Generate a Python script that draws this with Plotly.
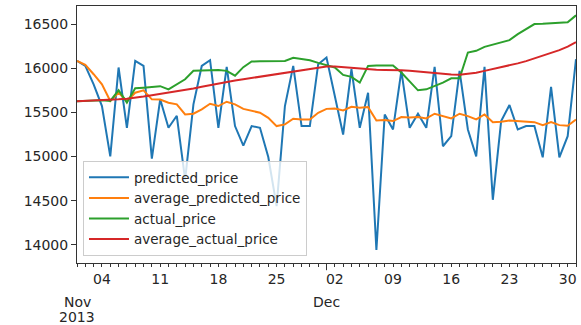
import pandas as pd
import plotly.graph_objects as go

dates = pd.date_range("2013-11-01", "2013-12-31", freq="D")

predicted_price = [16083, 16026, 15818, 15572, 15003, 16008, 15326, 16083, 16026, 14977,
                   15648, 15326, 15462, 14740, 15591, 16026, 16091, 15326, 16015, 15345,
                   15125, 15345, 15326, 14995, 14440, 15572, 16026, 15345, 15345, 16045,
                   16121, 15680, 15250, 15989, 15326, 15723, 13943, 15477, 15307, 15970,
                   15326, 15485, 15326, 16015, 15117, 15231, 15970, 15307, 15003, 16015,
                   14511, 15402, 15583, 15307, 15345, 15345, 14992, 15788, 14992, 15231,
                   16102]
average_predicted_price = [16083, 16038, 15932, 15818, 15629, 15723, 15629, 15723, 15750, 15648,
                           15645, 15610, 15591, 15477, 15485, 15534, 15598, 15572, 15621, 15591,
                           15540, 15515, 15496, 15439, 15345, 15364, 15428, 15420, 15420, 15496,
                           15540, 15545, 15523, 15564, 15553, 15560, 15409, 15413, 15402, 15447,
                           15442, 15447, 15432, 15485, 15458, 15432, 15485, 15458, 15420, 15477,
                           15388, 15394, 15409, 15402, 15394, 15390, 15356, 15390, 15356, 15349,
                           15420]
actual_price = [15625, 15630, 15635, 15638, 15630, 15750, 15610, 15773, 15780, 15788,
                15797, 15761, 15818, 15875, 15972, 15977, 15981, 15980, 15970, 15915,
                16012, 16076, 16078, 16078, 16080, 16083, 16118, 16105, 16090, 16060,
                16030, 16008, 15924, 15902, 15837, 16026, 16030, 16030, 16030, 15951,
                15850, 15750, 15761, 15799, 15837, 15886, 15886, 16178, 16197, 16242,
                16265, 16292, 16318, 16386, 16443, 16500, 16502, 16506, 16511, 16519,
                16598]
average_actual_price = [15625, 15628, 15632, 15636, 15640, 15648, 15655, 15665, 15680, 15695,
                        15710, 15722, 15735, 15750, 15770, 15790, 15810, 15830, 15848, 15862,
                        15875, 15890, 15905, 15920, 15935, 15950, 15965, 15980, 15995, 16008,
                        16020, 16020, 16012, 16000, 15990, 15985, 15982, 15980, 15980, 15978,
                        15970, 15960, 15950, 15940, 15932, 15928, 15925, 15935, 15950, 15970,
                        15990, 16010, 16030, 16055, 16080, 16110, 16140, 16170, 16205, 16245,
                        16295]

week_ticks = pd.date_range("2013-11-04", "2013-12-30", freq="7D")
week_labels = [d.strftime("%d") for d in week_ticks]
y_ticks = [14000, 14500, 15000, 15500, 16000, 16500]

series = [
    ("predicted_price", predicted_price, "#1f77b4"),
    ("average_predicted_price", average_predicted_price, "#ff7f0e"),
    ("actual_price", actual_price, "#2ca02c"),
    ("average_actual_price", average_actual_price, "#d62728"),
]

fig = go.Figure()
for name, vals, col in series:
    fig.add_trace(go.Scatter(x=dates, y=vals, mode="lines", name=name,
                             line=dict(color=col, width=2)))

font = dict(family="DejaVu Sans", size=14, color="#262626")
fig.update_layout(
    width=581, height=325,
    margin=dict(l=77, r=5, t=6, b=62),
    paper_bgcolor="white", plot_bgcolor="white",
    font=font,
    showlegend=True,
    legend=dict(x=0.012, y=0.027, xanchor="left", yanchor="bottom",
                bgcolor="rgba(255,255,255,0.8)", bordercolor="#cccccc", borderwidth=1,
                font=dict(family="DejaVu Sans", size=13.5, color="#262626"),
                itemwidth=40, tracegroupgap=0),
)
fig.update_xaxes(
    range=[dates[0], dates[-1]],
    tickmode="array", tickvals=week_ticks, ticktext=week_labels,
    ticks="outside", ticklen=3, tickcolor="#333333",
    showline=True, linecolor="#333333", linewidth=1, mirror=True,
    showgrid=False, zeroline=False,
    minor=dict(ticks="outside", ticklen=3, tickcolor="#333333",
               dtick=86400000, tick0="2013-11-01", showgrid=False),
    tickfont=font,
)
fig.update_yaxes(
    range=[13796, 16704],
    tickmode="array", tickvals=y_ticks, ticktext=[str(v) for v in y_ticks],
    ticks="outside", ticklen=5, tickcolor="#333333",
    showline=True, linecolor="#333333", linewidth=1, mirror=True,
    showgrid=False, zeroline=False,
    tickfont=font,
)
# month major tick at Dec 1
fig.add_shape(type="line", xref="x", yref="paper", x0="2013-12-01", x1="2013-12-01",
              y0=0, y1=-0.028, line=dict(color="#333333", width=1))
for txt, xd, shift in [("Nov", "2013-11-01", -39), ("2013", "2013-11-01", -54),
                       ("Dec", "2013-12-01", -39)]:
    fig.add_annotation(x=xd, y=0, xref="x", yref="paper", yshift=shift,
                       text=txt, showarrow=False, yanchor="middle", font=font)

fig.write_html("out.html", config={"displayModeBar": False},
               post_script="document.body.style.margin='0';")
